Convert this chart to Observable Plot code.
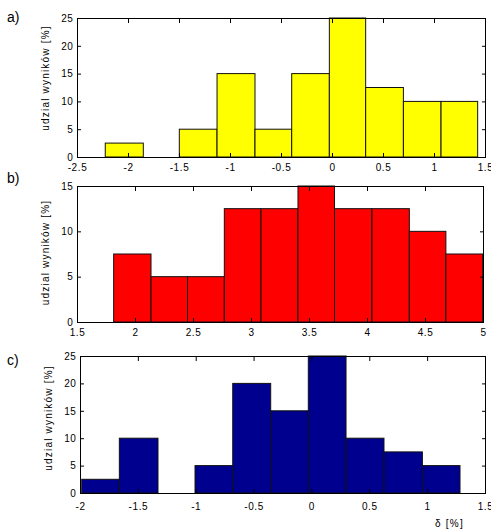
<!DOCTYPE html>
<html>
<head>
<meta charset="utf-8">
<script src="https://cdn.jsdelivr.net/npm/d3@7"></script>
<script src="https://cdn.jsdelivr.net/npm/@observablehq/plot@0.6"></script>
<style>
  body { margin: 0; background: #fff; }
  #fig { position: relative; width: 491px; height: 531px; font-family: "Liberation Sans", Arial, Helvetica, sans-serif; }
  #fig svg { position: absolute; left: 0; }
  #fig svg text { letter-spacing: 0.6px; }
  .tag { position: absolute; left: 7px; font-size: 14px; line-height: 14px; color: #000; }
</style>
</head>
<body>
<div id="fig"></div>
<script>
// a) histogram bin edges and share of results [%]
const edgesA = [-2.223, -1.85, -1.497, -1.127, -0.755, -0.395, -0.026, 0.33, 0.70, 1.069, 1.428];
const pctA = [2.5, 0, 5, 15, 5, 15, 25, 12.5, 10, 10];
const xTicksA = [-2.5, -2, -1.5, -1, -0.5, 0, 0.5, 1, 1.5];
const yTicksA = [0, 5, 10, 15, 20, 25];

// b)
const edgesB = [1.816, 2.138, 2.453, 2.77, 3.086, 3.405, 3.72, 4.043, 4.365, 4.68, 4.997];
const pctB = [7.5, 5, 5, 12.5, 12.5, 15, 12.5, 12.5, 10, 7.5];
const xTicksB = [1.5, 2, 2.5, 3, 3.5, 4, 4.5, 5];
const yTicksB = [0, 5, 10, 15];

// c)
const edgesC = [-1.985, -1.66, -1.326, -1.006, -0.68, -0.352, -0.027, 0.299, 0.627, 0.959, 1.284];
const pctC = [2.5, 10, 0, 5, 20, 15, 25, 10, 7.5, 5];
const xTicksC = [-2, -1.5, -1, -0.5, 0, 0.5, 1, 1.5];
const yTicksC = [0, 5, 10, 15, 20, 25];

const yLabel = "udzial wyników [%]";
const xLabel = "δ [%]";
const fmt = d => String(d);
const fig = document.getElementById("fig");

function histPanel(o) {
  const bins = o.pct.map((v, i) => ({x1: o.edges[i], x2: o.edges[i + 1], v}));
  const marks = [
    Plot.rectY(bins, {x1: "x1", x2: "x2", y1: 0, y2: "v", fill: o.fill, stroke: "#111", strokeWidth: 1}),
    Plot.frame({stroke: "#000", strokeWidth: 1}),
    // inward tick marks on all four sides (no text)
    Plot.axisX({ticks: o.xTicks, anchor: "bottom", tickSize: 4, dy: -4, fill: "none", label: null}),
    Plot.axisX({ticks: o.xTicks, anchor: "top", tickSize: 4, dy: 4, fill: "none", label: null}),
    Plot.axisY({ticks: o.yTicks, anchor: "left", tickSize: 4, dx: 4, fill: "none", label: null}),
    Plot.axisY({ticks: o.yTicks, anchor: "right", tickSize: 4, dx: -4, fill: "none", label: null}),
    // tick labels
    Plot.axisX({ticks: o.xTicks, anchor: "bottom", tickFormat: fmt, tickSize: 0, tickPadding: o.padX, label: null}),
    Plot.axisY({ticks: o.yTicks, anchor: "left", tickFormat: fmt, tickSize: 0, tickPadding: 4, label: null}),
    Plot.text([yLabel], {frameAnchor: "left", textAnchor: "middle", lineAnchor: "middle", rotate: -90,
      dx: -32, dy: o.labelDy, fontSize: 10})
  ];
  if (o.extra) marks.push(o.extra);
  const svg = Plot.plot({
    width: 491,
    height: o.height,
    marginTop: o.mt, marginBottom: o.mb, marginLeft: o.ml, marginRight: o.mr,
    x: {domain: o.xDomain},
    y: {domain: o.yDomain},
    style: {fontFamily: "'Liberation Sans', Arial, Helvetica, sans-serif", fontSize: "10px", background: "transparent", color: "#000"},
    marks
  });
  // axis titles are set a little more loosely than the tick labels
  svg.querySelectorAll('g[aria-label="text"] text').forEach(t => t.style.letterSpacing = "1.2px");
  svg.style.top = o.top + "px";
  fig.appendChild(svg);
}

histPanel({edges: edgesA, pct: pctA, xTicks: xTicksA, yTicks: yTicksA, xDomain: [-2.5, 1.5], yDomain: [0, 25],
  fill: "#ffff00", top: 0, height: 175, mt: 18, mb: 18, ml: 77, mr: 6, padX: 6, labelDy: -10});
histPanel({edges: edgesB, pct: pctB, xTicks: xTicksB, yTicks: yTicksB, xDomain: [1.5, 5], yDomain: [0, 15],
  fill: "#ff0000", top: 170, height: 170, mt: 16, mb: 18, ml: 77, mr: 8, padX: 6, labelDy: -2});
histPanel({edges: edgesC, pct: pctC, xTicks: xTicksC, yTicks: yTicksC, xDomain: [-2, 1.5], yDomain: [0, 25],
  fill: "#00008f", top: 340, height: 191, mt: 16, mb: 38, ml: 80, mr: 6, padX: 9, labelDy: -7,
  extra: Plot.text([xLabel], {frameAnchor: "bottom-right", textAnchor: "middle", lineAnchor: "middle",
    dx: -36, dy: 30, fontSize: 10})});

// panel letters
[["a)", 10], ["b)", 171], ["c)", 353]].forEach(([t, top]) => {
  const s = document.createElement("span");
  s.className = "tag";
  s.style.top = top + "px";
  s.textContent = t;
  fig.appendChild(s);
});
</script>
</body>
</html>
